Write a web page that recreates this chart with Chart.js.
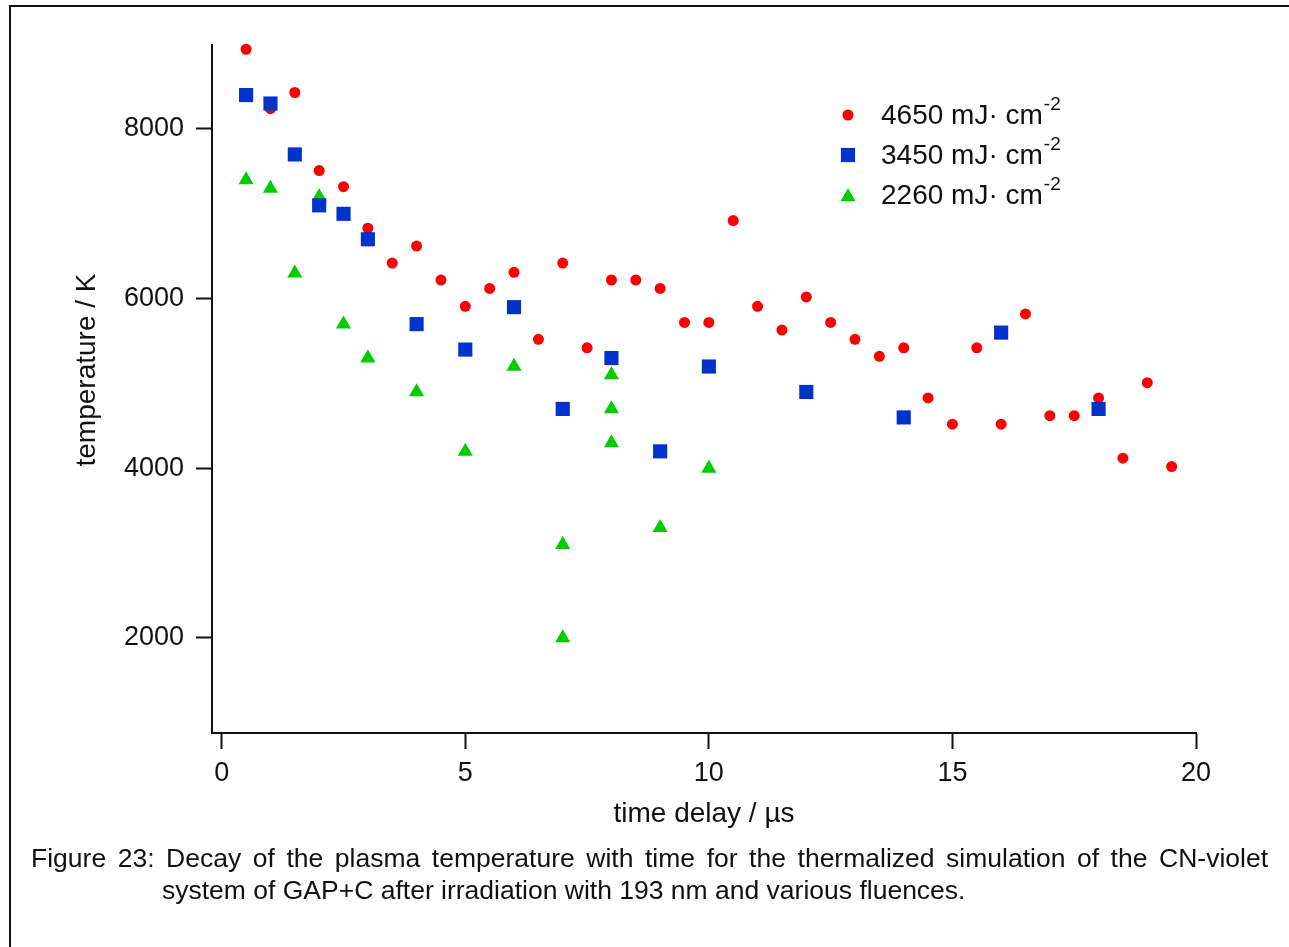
<!DOCTYPE html>
<html>
<head>
<meta charset="utf-8">
<script src="https://cdn.jsdelivr.net/npm/chart.js@4/dist/chart.umd.min.js"></script>
<style>
  html, body { margin: 0; padding: 0; background: #fff; overflow: hidden; }
  #wrap { position: relative; width: 1289px; height: 947px; }
  #frame { position: absolute; left: 9px; top: 5px; width: 1400px; height: 1100px;
           border-left: 2px solid #111; border-top: 2px solid #111; }
  canvas { position: absolute; left: 0; top: 0; }
  .cap { position: absolute; font-family: "Liberation Sans", Arial, sans-serif; font-size: 26.5px;
         line-height: 32px; color: #111; white-space: nowrap; }
  #cap1 { left: 31px; top: 842px; width: 1237px; text-align: justify; text-align-last: justify; }
  #cap2 { left: 162px; top: 874px; }
</style>
</head>
<body>
<div id="wrap">
  <div id="frame"></div>
  <canvas id="chart" width="1289" height="947"></canvas>
  <div class="cap" id="cap1">Figure 23: Decay of the plasma temperature with time for the thermalized simulation of the CN-violet</div>
  <div class="cap" id="cap2">system of GAP+C after irradiation with 193 nm and various fluences.</div>
</div>
<script>
// 4650 mJ/cm2 (red circles)
const redX = [0.5, 1, 1.5, 2, 2.5, 3, 3.5, 4, 4.5, 5, 5.5, 6, 6.5, 7, 7.5, 8, 8.5, 9, 9.5, 10,
              10.5, 11, 11.5, 12, 12.5, 13, 13.5, 14, 14.5, 15, 15.5, 16, 16.5, 17, 17.5, 18, 18.5, 19, 19.5];
const redY = [8940, 8240, 8430, 7510, 7320, 6830, 6420, 6620, 6220, 5910, 6120, 6310, 5520, 6420, 5420, 6220, 6220, 6120, 5720, 5720,
              6920, 5910, 5630, 6020, 5720, 5520, 5320, 5420, 4830, 4520, 5420, 4520, 5820, 4620, 4620, 4830, 4120, 5010, 4020];

// 3450 mJ/cm2 (blue squares)
const blueX = [0.5, 1, 1.5, 2, 2.5, 3, 4, 5, 6, 7, 8, 9, 10, 12, 14, 16, 18];
const blueY = [8400, 8300, 7700, 7100, 7000, 6700, 5700, 5400, 5900, 4700, 5300, 4200, 5200, 4900, 4600, 5600, 4700];

// 2260 mJ/cm2 (green triangles)
const greenX = [0.5, 1, 1.5, 2, 2.5, 3, 4, 5, 6, 7, 7, 8, 8, 8, 9, 10];
const greenY = [7400, 7300, 6300, 7200, 5700, 5300, 4900, 4200, 5200, 3100, 2000, 5100, 4700, 4300, 3300, 4000];

const xTicks = [0, 5, 10, 15, 20];
const yTicks = [2000, 4000, 6000, 8000];
const legendLabels = ['4650 mJ\u00b7 cm', '3450 mJ\u00b7 cm', '2260 mJ\u00b7 cm'];

const RED = '#ff0000', BLUE = '#0033cc', GREEN = '#00cc00';
const FONT = '"Liberation Sans", Arial, sans-serif';

const pts = (xs, ys) => xs.map((x, i) => ({ x: x, y: ys[i] }));

const series = [
  { label: legendLabels[0], data: pts(redX, redY), pointStyle: 'circle', pointRadius: 5.5, color: RED, order: 1 },
  { label: legendLabels[1], data: pts(blueX, blueY), pointStyle: 'rect', pointRadius: 10, color: BLUE, order: 0 },
  { label: legendLabels[2], data: pts(greenX, greenY), pointStyle: 'triangle', pointRadius: 8.7, color: GREEN, order: 2 }
];

// Igor style legend with superscript, and the y title placed off-centre like the original
const igorDecor = {
  id: 'igorDecor',
  afterDatasetsDraw(chart) {
    const ctx = chart.ctx;
    const rows = [115, 155, 195];
    ctx.save();
    series.forEach((s, i) => {
      ctx.fillStyle = s.color;
      ctx.strokeStyle = s.color;
      Chart.helpers.drawPoint(ctx, { pointStyle: s.pointStyle, radius: s.pointRadius, rotation: 0, borderWidth: 0 },
        848, rows[i] + (s.pointStyle === 'triangle' ? 2 : 0));
      ctx.fillStyle = '#111';
      ctx.textBaseline = 'alphabetic';
      ctx.textAlign = 'left';
      ctx.font = '28px ' + FONT;
      ctx.fillText(s.label, 881, rows[i] + 9);
      const w = ctx.measureText(s.label).width;
      ctx.font = '19px ' + FONT;
      ctx.fillText('-2', 881 + w + 1, rows[i] - 5);
    });

    ctx.translate(87, 370);
    ctx.rotate(-Math.PI / 2);
    ctx.fillStyle = '#111';
    ctx.font = '28px ' + FONT;
    ctx.textAlign = 'center';
    ctx.textBaseline = 'middle';
    ctx.fillText('temperature / K', 0, 0);
    ctx.restore();
  }
};

new Chart(document.getElementById('chart'), {
  type: 'scatter',
  data: {
    datasets: series.map(s => ({
      label: s.label,
      data: s.data,
      order: s.order,
      clip: false,
      pointStyle: s.pointStyle,
      pointRadius: s.pointRadius,
      pointHoverRadius: s.pointRadius,
      pointBackgroundColor: s.color,
      pointBorderColor: s.color,
      pointBorderWidth: 0,
      showLine: false
    }))
  },
  options: {
    responsive: false,
    animation: false,
    devicePixelRatio: 1,
    layout: { padding: { left: 0, top: 45, right: 93, bottom: 114 } },
    plugins: { legend: { display: false }, tooltip: { enabled: false } },
    scales: {
      x: {
        type: 'linear',
        min: -0.2,
        max: 20,
        afterBuildTicks: (scale) => { scale.ticks = xTicks.map(v => ({ value: v })); },
        afterFit: (scale) => { scale.height = 100; },
        border: { display: true, color: '#111', width: 2 },
        grid: { drawOnChartArea: false, drawTicks: true, tickLength: 16, tickWidth: 2, tickColor: '#111' },
        ticks: { color: '#111', padding: 8, font: { family: FONT, size: 27 }, maxRotation: 0 },
        title: { display: true, text: 'time delay / \u00b5s', color: '#111',
                 font: { family: FONT, size: 28 }, padding: { top: 0, bottom: 2 } }
      },
      y: {
        type: 'linear',
        min: 880,
        max: 8990,
        afterBuildTicks: (scale) => { scale.ticks = yTicks.map(v => ({ value: v })); },
        afterFit: (scale) => { scale.width = 212; },
        border: { display: true, color: '#111', width: 2 },
        grid: { drawOnChartArea: false, drawTicks: true, tickLength: 16, tickWidth: 2, tickColor: '#111' },
        ticks: { color: '#111', padding: 12, font: { family: FONT, size: 27 }, callback: v => String(v) }
      }
    }
  },
  plugins: [igorDecor]
});
</script>
</body>
</html>
